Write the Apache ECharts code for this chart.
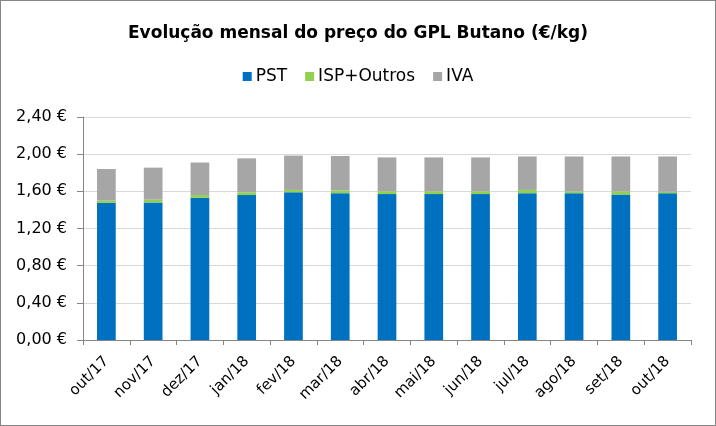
<!DOCTYPE html>
<html><head><meta charset="utf-8">
<script src="https://cdn.jsdelivr.net/npm/echarts@6/dist/echarts.min.js"></script>
<style>html,body{margin:0;padding:0;background:#fff}#c{width:716px;height:426px;box-sizing:border-box;border:1px solid #868686}</style>
</head><body><div id="c"></div>
<script>
const categories = ['out/17','nov/17','dez/17','jan/18','fev/18','mar/18','abr/18','mai/18','jun/18','jul/18','ago/18','set/18','out/18'];
const pst = [1.475, 1.48, 1.53, 1.56, 1.59, 1.58, 1.57, 1.57, 1.57, 1.58, 1.58, 1.565, 1.58];
const ispOutros = [0.025, 0.03, 0.03, 0.03, 0.025, 0.03, 0.03, 0.03, 0.03, 0.035, 0.02, 0.035, 0.015];
const iva = [0.34, 0.345, 0.35, 0.365, 0.37, 0.37, 0.365, 0.365, 0.365, 0.36, 0.375, 0.375, 0.38];
const yTicks = {min: 0, max: 2.4, interval: 0.4};

const chart = echarts.init(document.getElementById('c'), null, {renderer: 'canvas'});
const fmt = v => v.toFixed(2).replace('.', ',') + ' €';
chart.setOption({
  animation: false,
  title: {text: 'Evolução mensal do preço do GPL Butano (€/kg)', left: 'center', top: 19,
    textStyle: {fontFamily: 'DejaVu Sans', fontWeight: 'bold', fontSize: 17, color: '#000'}},
  legend: {top: 62, left: 'center', itemWidth: 9, itemHeight: 9, itemGap: 18, icon: 'rect',
    textStyle: {fontFamily: 'DejaVu Sans', fontSize: 17, color: '#000', padding: [0,0,0,-1]}},
  grid: {left: 82, right: 24, top: 116, bottom: 85, containLabel: false},
  xAxis: {type: 'category', data: categories,
    axisLine: {lineStyle: {color: '#868686'}},
    axisTick: {show: true, alignWithLabel: false, length: 5, lineStyle: {color: '#868686'}},
    axisLabel: {rotate: 45, fontFamily: 'DejaVu Sans', fontSize: 15, color: '#000', margin: 19}},
  yAxis: {type: 'value', min: yTicks.min, max: yTicks.max, interval: yTicks.interval,
    axisLine: {show: true, lineStyle: {color: '#868686'}},
    axisTick: {show: true, length: 6, lineStyle: {color: '#868686'}},
    splitLine: {lineStyle: {color: '#D9D9D9'}},
    axisLabel: {formatter: fmt, fontFamily: 'DejaVu Sans', fontSize: 16, color: '#000', margin: 16}},
  series: [
    {name: 'PST', type: 'bar', stack: 't', data: pst, barWidth: '40%', itemStyle: {color: '#0070C0'}},
    {name: 'ISP+Outros', type: 'bar', stack: 't', data: ispOutros, itemStyle: {color: '#92D050'}},
    {name: 'IVA', type: 'bar', stack: 't', data: iva, itemStyle: {color: '#A6A6A6'}}
  ]
});
</script></body></html>
